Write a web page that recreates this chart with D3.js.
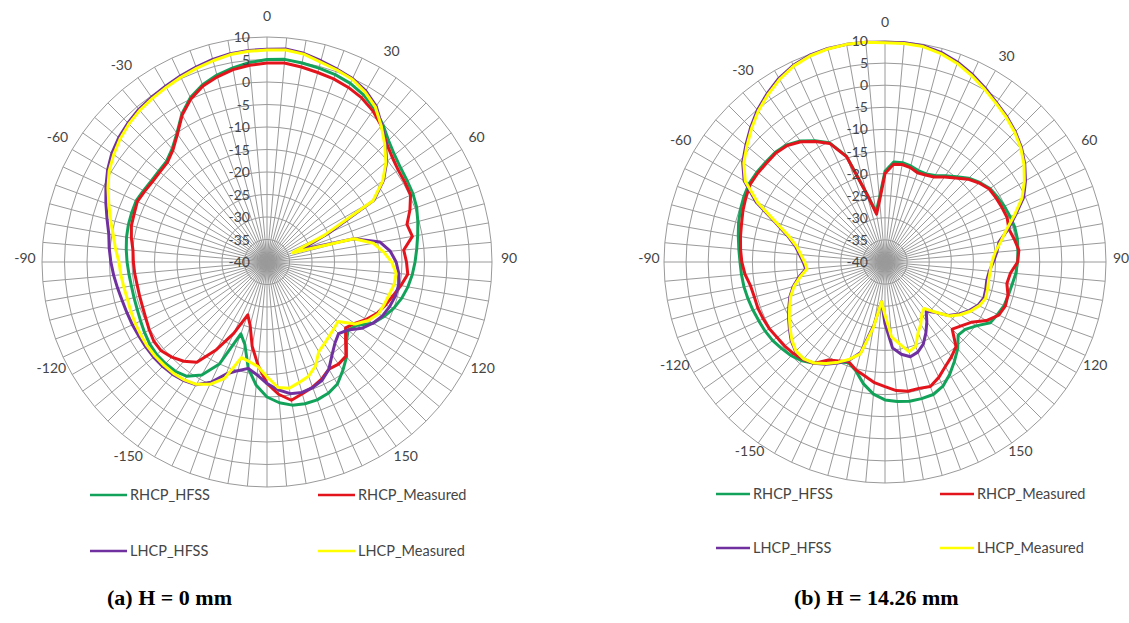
<!DOCTYPE html>
<html><head><meta charset="utf-8">
<script src="https://cdn.jsdelivr.net/npm/d3@7"></script>
<style>
body{margin:0;background:#fff}
svg{display:block}
.ax{font-family:Lato,"Open Sans",sans-serif;font-size:14px;fill:#454545}
.lg{font-family:Lato,"Open Sans",sans-serif;font-size:14.5px;fill:#454545}
.cap{font-family:"Liberation Serif","Times New Roman",serif;font-weight:bold;font-size:22px;fill:#000}
</style>
</head><body>
<svg id="chart" width="1129" height="623"></svg>
<script>
// ---------- categories & ticks ----------
const categories = [0,5,10,15,20,25,30,35,40,45,50,55,60,65,70,75,80,85,90,95,100,105,110,115,120,125,130,135,140,145,150,155,160,165,170,175,180,185,190,195,200,205,210,215,220,225,230,235,240,245,250,255,260,265,270,275,280,285,290,295,300,305,310,315,320,325,330,335,340,345,350,355];
const angleTickLabels = ["0","30","60","90","120","150","-150","-120","-90","-60","-30"];
const ringTicks = [10,5,0,-5,-10,-15,-20,-25,-30,-35,-40];
const seriesNames = ["RHCP_HFSS","RHCP_Measured","LHCP_HFSS","LHCP_Measured"];
const captions = ["(a) H = 0 mm","(b) H = 14.26 mm"];

// ---------- (a) H = 0 mm ----------
const a_RHCP_HFSS = [5.0,5.2,4.9,4.6,4.3,3.8,2.9,1.6,0.0,-1.8,-3.0,-3.7,-4.0,-4.2,-4.6,-5.3,-6.0,-6.6,-7.1,-7.6,-8.2,-9.0,-10.0,-11.3,-12.8,-15.5,-16.5,-15.0,-12.5,-10.6,-8.7,-7.8,-7.4,-7.4,-7.7,-8.6,-10.0,-12.5,-16.0,-21.0,-23.0,-15.0,-11.0,-9.0,-8.3,-8.1,-8.0,-8.2,-8.6,-9.0,-9.3,-9.4,-9.4,-9.2,-8.9,-8.6,-8.3,-8.1,-8.0,-7.9,-8.3,-8.6,-8.6,-8.4,-7.2,-5.1,-2.1,0.3,1.9,3.0,3.8,4.5];
const a_RHCP_Measured = [4.2,4.4,4.0,3.6,3.3,2.8,2.1,1.0,-0.5,-2.5,-3.7,-4.4,-4.6,-4.8,-6.2,-7.8,-7.2,-9.5,-9.0,-8.6,-9.8,-11.0,-12.0,-13.0,-14.5,-16.2,-17.2,-15.3,-12.7,-12.3,-12.5,-11.3,-10.4,-9.7,-8.8,-10.5,-13.0,-17.0,-21.0,-25.5,-27.5,-22.5,-17.5,-12.8,-11.2,-10.1,-9.3,-9.3,-9.8,-10.3,-10.6,-10.7,-10.7,-10.5,-10.3,-10.1,-9.4,-8.8,-8.6,-8.2,-8.6,-8.9,-8.9,-8.7,-7.5,-5.3,-2.3,0.0,1.6,2.6,3.4,3.9];
const a_LHCP_HFSS = [7.3,7.5,7.1,6.3,5.6,5.0,3.9,2.3,-0.3,-2.8,-5.3,-8.4,-12.6,-25.0,-32.0,-20.0,-14.5,-12.5,-11.3,-10.6,-10.3,-10.5,-11.0,-11.7,-12.8,-14.3,-16.5,-17.5,-16.5,-14.8,-12.5,-11.0,-10.3,-10.0,-10.3,-11.5,-13.0,-14.8,-16.0,-15.0,-13.5,-10.5,-8.5,-7.8,-7.4,-7.2,-7.1,-7.1,-7.1,-7.0,-6.9,-6.7,-6.3,-5.8,-5.3,-4.8,-4.3,-3.2,-1.9,-0.5,0.9,2.1,3.0,3.7,4.3,4.7,5.1,5.6,6.1,6.6,7.0,7.2];
const a_LHCP_Measured = [7.1,7.3,6.9,6.0,5.4,4.8,3.6,2.0,-0.5,-3.0,-5.5,-8.6,-12.8,-26.0,-34.0,-20.0,-16.0,-14.0,-12.3,-11.2,-11.3,-11.9,-12.3,-12.7,-14.0,-16.0,-19.4,-19.0,-18.5,-17.8,-17.0,-14.5,-13.0,-12.3,-11.5,-12.0,-14.5,-16.7,-17.5,-18.0,-12.5,-10.0,-8.6,-8.0,-7.7,-7.6,-7.5,-7.5,-7.6,-7.7,-7.8,-7.9,-7.7,-7.4,-7.1,-6.2,-5.3,-4.0,-2.6,-1.0,0.5,1.6,2.6,3.4,4.0,4.4,4.8,5.3,5.8,6.3,6.8,7.0];

// ---------- (b) H = 14.26 mm ----------
const b_RHCP_HFSS = [-19.5,-17.3,-17.2,-17.5,-18.0,-18.0,-17.4,-16.2,-14.8,-13.2,-12.0,-11.0,-10.6,-10.2,-9.9,-9.6,-9.6,-9.8,-10.0,-10.3,-10.8,-11.1,-11.3,-11.9,-12.5,-14.8,-16.3,-16.6,-14.4,-12.6,-10.7,-9.0,-8.1,-8.0,-8.0,-8.3,-8.8,-10.0,-12.0,-14.5,-15.8,-15.0,-14.0,-12.0,-10.8,-10.0,-9.5,-9.0,-8.7,-8.5,-8.2,-7.9,-7.6,-7.4,-7.2,-6.8,-6.3,-5.7,-5.2,-4.8,-4.5,-4.6,-4.8,-4.9,-5.4,-6.6,-8.3,-10.2,-14.5,-24.0,-28.5,-25.5];
const b_RHCP_Measured = [-20.0,-17.8,-17.6,-17.9,-18.5,-18.3,-17.8,-16.5,-15.2,-13.5,-12.2,-11.2,-11.0,-10.8,-10.6,-11.0,-10.3,-9.6,-10.0,-11.5,-12.0,-11.2,-11.0,-11.6,-13.5,-16.2,-17.5,-18.5,-15.0,-13.8,-12.7,-11.2,-10.0,-10.4,-10.3,-10.8,-11.8,-12.6,-13.8,-14.7,-16.0,-15.3,-14.4,-12.0,-11.2,-10.7,-10.4,-10.2,-9.8,-9.6,-9.4,-9.4,-9.1,-8.2,-7.6,-7.2,-6.8,-6.4,-5.8,-5.3,-4.8,-4.9,-5.1,-5.1,-5.6,-6.8,-8.5,-10.4,-14.7,-24.0,-29.0,-26.0];
const b_LHCP_HFSS = [9.7,9.8,9.7,9.1,8.1,6.8,5.4,4.0,2.9,1.7,0.3,-1.4,-3.3,-5.4,-8.5,-11.1,-13.8,-14.6,-15.5,-16.3,-16.6,-16.4,-16.2,-16.8,-18.0,-19.5,-21.2,-23.8,-25.5,-23.5,-21.5,-19.5,-18.3,-17.8,-18.8,-20.5,-26.0,-31.0,-25.5,-18.8,-16.4,-14.8,-13.3,-12.0,-11.3,-11.4,-12.3,-13.6,-14.8,-16.0,-17.1,-18.5,-20.2,-22.0,-21.5,-20.6,-19.4,-17.2,-13.5,-7.8,-3.2,-0.7,1.1,3.0,4.9,6.5,8.0,9.1,9.8,10.0,10.0,9.9];
const b_LHCP_Measured = [9.6,9.6,9.5,8.8,7.8,6.5,5.1,3.8,2.7,1.5,0.1,-1.6,-3.6,-5.8,-8.8,-11.5,-13.4,-15.0,-15.8,-16.1,-16.2,-16.0,-15.8,-16.5,-17.7,-19.2,-21.0,-24.0,-26.3,-25.5,-23.8,-22.3,-19.7,-19.0,-21.2,-23.0,-28.0,-31.0,-25.0,-18.5,-16.6,-15.0,-13.5,-12.1,-11.4,-11.5,-12.5,-13.8,-15.0,-16.2,-17.3,-18.7,-20.5,-22.3,-21.8,-20.9,-19.7,-17.5,-13.8,-8.2,-3.5,-1.0,0.8,2.7,4.6,6.2,7.7,8.9,9.6,9.9,10.0,9.9];

// ---------- styles & layout (not data) ----------
const seriesColors = ["#13a25a","#e3141c","#7030a0","#ffff00"];
// where the category labels sit around the dial (Excel nudges them off the exact spoke)
const labelAngles = [0,31,60,90,117,145,215,243,270,300,323];
const panels = [
  {cx:267, cy:262, R:225, lr:242, series:[a_RHCP_HFSS,a_RHCP_Measured,a_LHCP_HFSS,a_LHCP_Measured],
   legend:{x0:90, x1:318, y0:495, y1:551, len:37}, cap:{x:107, y:605}},
  {cx:885, cy:262, R:221, lr:236, series:[b_RHCP_HFSS,b_RHCP_Measured,b_LHCP_HFSS,b_LHCP_Measured],
   legend:{x0:716, x1:940, y0:494, y1:548, len:34}, cap:{x:794, y:605}}
];

const svg = d3.select("#chart");
const defs = svg.append("defs");

panels.forEach((p, pi) => {
  const g = svg.append("g").attr("transform", `translate(${p.cx},${p.cy})`);
  const r = d3.scaleLinear().domain([-40, 10]).range([0, p.R]);
  const ang = d3.scaleLinear().domain([0, 360]).range([0, 2 * Math.PI]);

  // darker hub where the spokes converge
  const grad = defs.append("radialGradient").attr("id", "cg" + pi);
  grad.append("stop").attr("offset", "0%").attr("stop-color", "#888").attr("stop-opacity", 0.9);
  grad.append("stop").attr("offset", "100%").attr("stop-color", "#999").attr("stop-opacity", 0);
  g.append("circle").attr("r", 22).attr("fill", `url(#cg${pi})`);

  // spokes
  g.append("g").selectAll("line").data(categories).join("line")
    .attr("x1", 0).attr("y1", 0)
    .attr("x2", d => r(10) * Math.sin(ang(d)))
    .attr("y2", d => -r(10) * Math.cos(ang(d)))
    .attr("stroke", "#9a9a9a").attr("stroke-width", 1);

  // rings
  const ringLine = d3.lineRadial().angle(d => ang(d.a)).radius(d => r(d.v)).curve(d3.curveLinearClosed);
  g.append("g").selectAll("path").data(ringTicks.filter(t => t > -40)).join("path")
    .attr("d", t => ringLine(categories.map(a => ({a, v: t}))))
    .attr("fill", "none").attr("stroke", "#9a9a9a").attr("stroke-width", 1);

  // series
  const line = d3.lineRadial().angle((d, i) => ang(categories[i])).radius(d => r(d)).curve(d3.curveLinearClosed);
  g.append("g").selectAll("path").data(p.series).join("path")
    .attr("d", d => line(d))
    .attr("fill", "none")
    .attr("stroke", (d, i) => seriesColors[i])
    .attr("stroke-width", 3)
    .attr("stroke-linejoin", "round");

  // ring value labels
  g.append("g").selectAll("text").data(ringTicks).join("text")
    .attr("class", "ax")
    .attr("x", -17).attr("y", t => -r(t) + 5)
    .attr("text-anchor", "end")
    .text(t => t);

  // category labels
  g.append("g").selectAll("text").data(angleTickLabels).join("text")
    .attr("class", "ax")
    .attr("x", (d, i) => p.lr * Math.sin(ang(labelAngles[i])))
    .attr("y", (d, i) => -p.lr * Math.cos(ang(labelAngles[i])) + 1)
    .attr("text-anchor", "middle")
    .text(d => d);

  // legend
  const L = p.legend;
  const pos = [[L.x0, L.y0], [L.x1, L.y0], [L.x0, L.y1], [L.x1, L.y1]];
  seriesNames.forEach((name, i) => {
    const [x, y] = pos[i];
    svg.append("line").attr("x1", x).attr("x2", x + L.len).attr("y1", y).attr("y2", y)
      .attr("stroke", seriesColors[i]).attr("stroke-width", 2.5);
    svg.append("text").attr("class", "lg").attr("x", x + L.len + 3).attr("y", y + 5).text(name);
  });

  // caption
  svg.append("text").attr("class", "cap")
    .attr("x", p.cap.x).attr("y", p.cap.y)
    .text(captions[pi]);
});
</script>
</body></html>
